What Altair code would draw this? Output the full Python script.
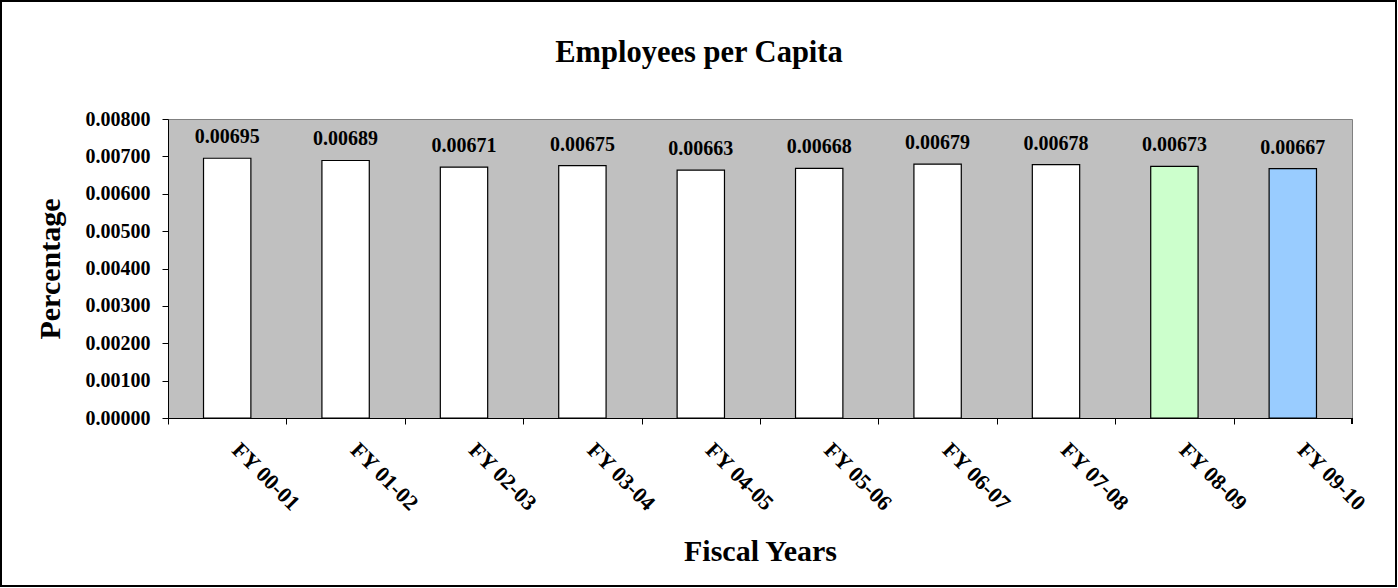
import altair as alt
import pandas as pd

years = ["FY 00-01", "FY 01-02", "FY 02-03", "FY 03-04", "FY 04-05",
         "FY 05-06", "FY 06-07", "FY 07-08", "FY 08-09", "FY 09-10"]
values = [0.00695, 0.00689, 0.00671, 0.00675, 0.00663,
          0.00668, 0.00679, 0.00678, 0.00673, 0.00667]
fills = ["#FFFFFF"] * 8 + ["#CCFFCC", "#99CCFF"]
y_ticks = [0, 0.001, 0.002, 0.003, 0.004, 0.005, 0.006, 0.007, 0.008]
title_text = "Employees per Capita"

df = pd.DataFrame({"year": years, "value": values, "fill": fills})

W, H = 1184, 299
STEP = W / 10
FONT = "Liberation Serif"

x_enc = alt.X("year:N", sort=years,
              scale=alt.Scale(paddingInner=0.6, paddingOuter=0.3),
              axis=alt.Axis(title="Fiscal Years", titleFontSize=30, titleFont=FONT,
                            titleFontWeight="bold", titleColor="black", titlePadding=22,
                            labelAngle=45, labelAlign="left", labelBaseline="middle",
                            labelFont=FONT, labelFontSize=22, labelFontWeight="bold",
                            labelColor="black", labelPadding=22, labelOffset=8 + STEP / 2,
                            tickOffset=-STEP / 2, tickSize=6, tickColor="black",
                            domainColor="black", labelOverlap=False))
y_enc = alt.Y("value:Q",
              scale=alt.Scale(domain=[0, 0.008], nice=False),
              axis=alt.Axis(title="Percentage", values=y_ticks, format=".5f",
                            titleFontSize=30, titleFont=FONT, titleFontWeight="bold",
                            titleColor="black", titlePadding=20,
                            labelFont=FONT, labelFontSize=20, labelFontWeight="bold",
                            labelColor="black", labelPadding=12, labelOverlap=False,
                            tickSize=6, tickColor="black", domainColor="black",
                            grid=False))

bars = alt.Chart(df).mark_bar(stroke="black", strokeWidth=1.2).encode(
    x=x_enc, y=y_enc,
    fill=alt.Fill("fill:N", scale=None),
)

labels = alt.Chart(df).mark_text(
    font=FONT, fontSize=20, fontWeight="bold", color="black",
    baseline="alphabetic", dy=-15,
).encode(
    x=x_enc,
    y=y_enc,
    text=alt.Text("value:Q", format=".5f"),
)

title = alt.Chart(pd.DataFrame({"t": [title_text]})).mark_text(
    font=FONT, fontSize=30.5, fontWeight="bold", color="black",
    align="center", baseline="middle",
).encode(text="t:N", x=alt.value(531), y=alt.value(-66))

last_tick = alt.Chart(df).mark_rule(color="black", strokeWidth=1).encode(
    x=alt.value(W), y=alt.value(H), y2=alt.value(H + 6)
)

border = alt.Chart(df).mark_rect(fill=None, stroke="black", strokeWidth=1.5).encode(
    x=alt.value(-167), x2=alt.value(1228), y=alt.value(-118), y2=alt.value(467)
)

chart = alt.layer(bars, labels, title, last_tick, border).properties(
    width=W, height=H,
    autosize=alt.AutoSizeParams(type="none"),
    padding={"left": 168, "top": 119, "right": 46, "bottom": 170},
    background="white",
).configure_view(
    fill="#C0C0C0", stroke="#808080", strokeWidth=1
)

chart.save("out.html", embed_options={"renderer": "svg", "actions": False})
